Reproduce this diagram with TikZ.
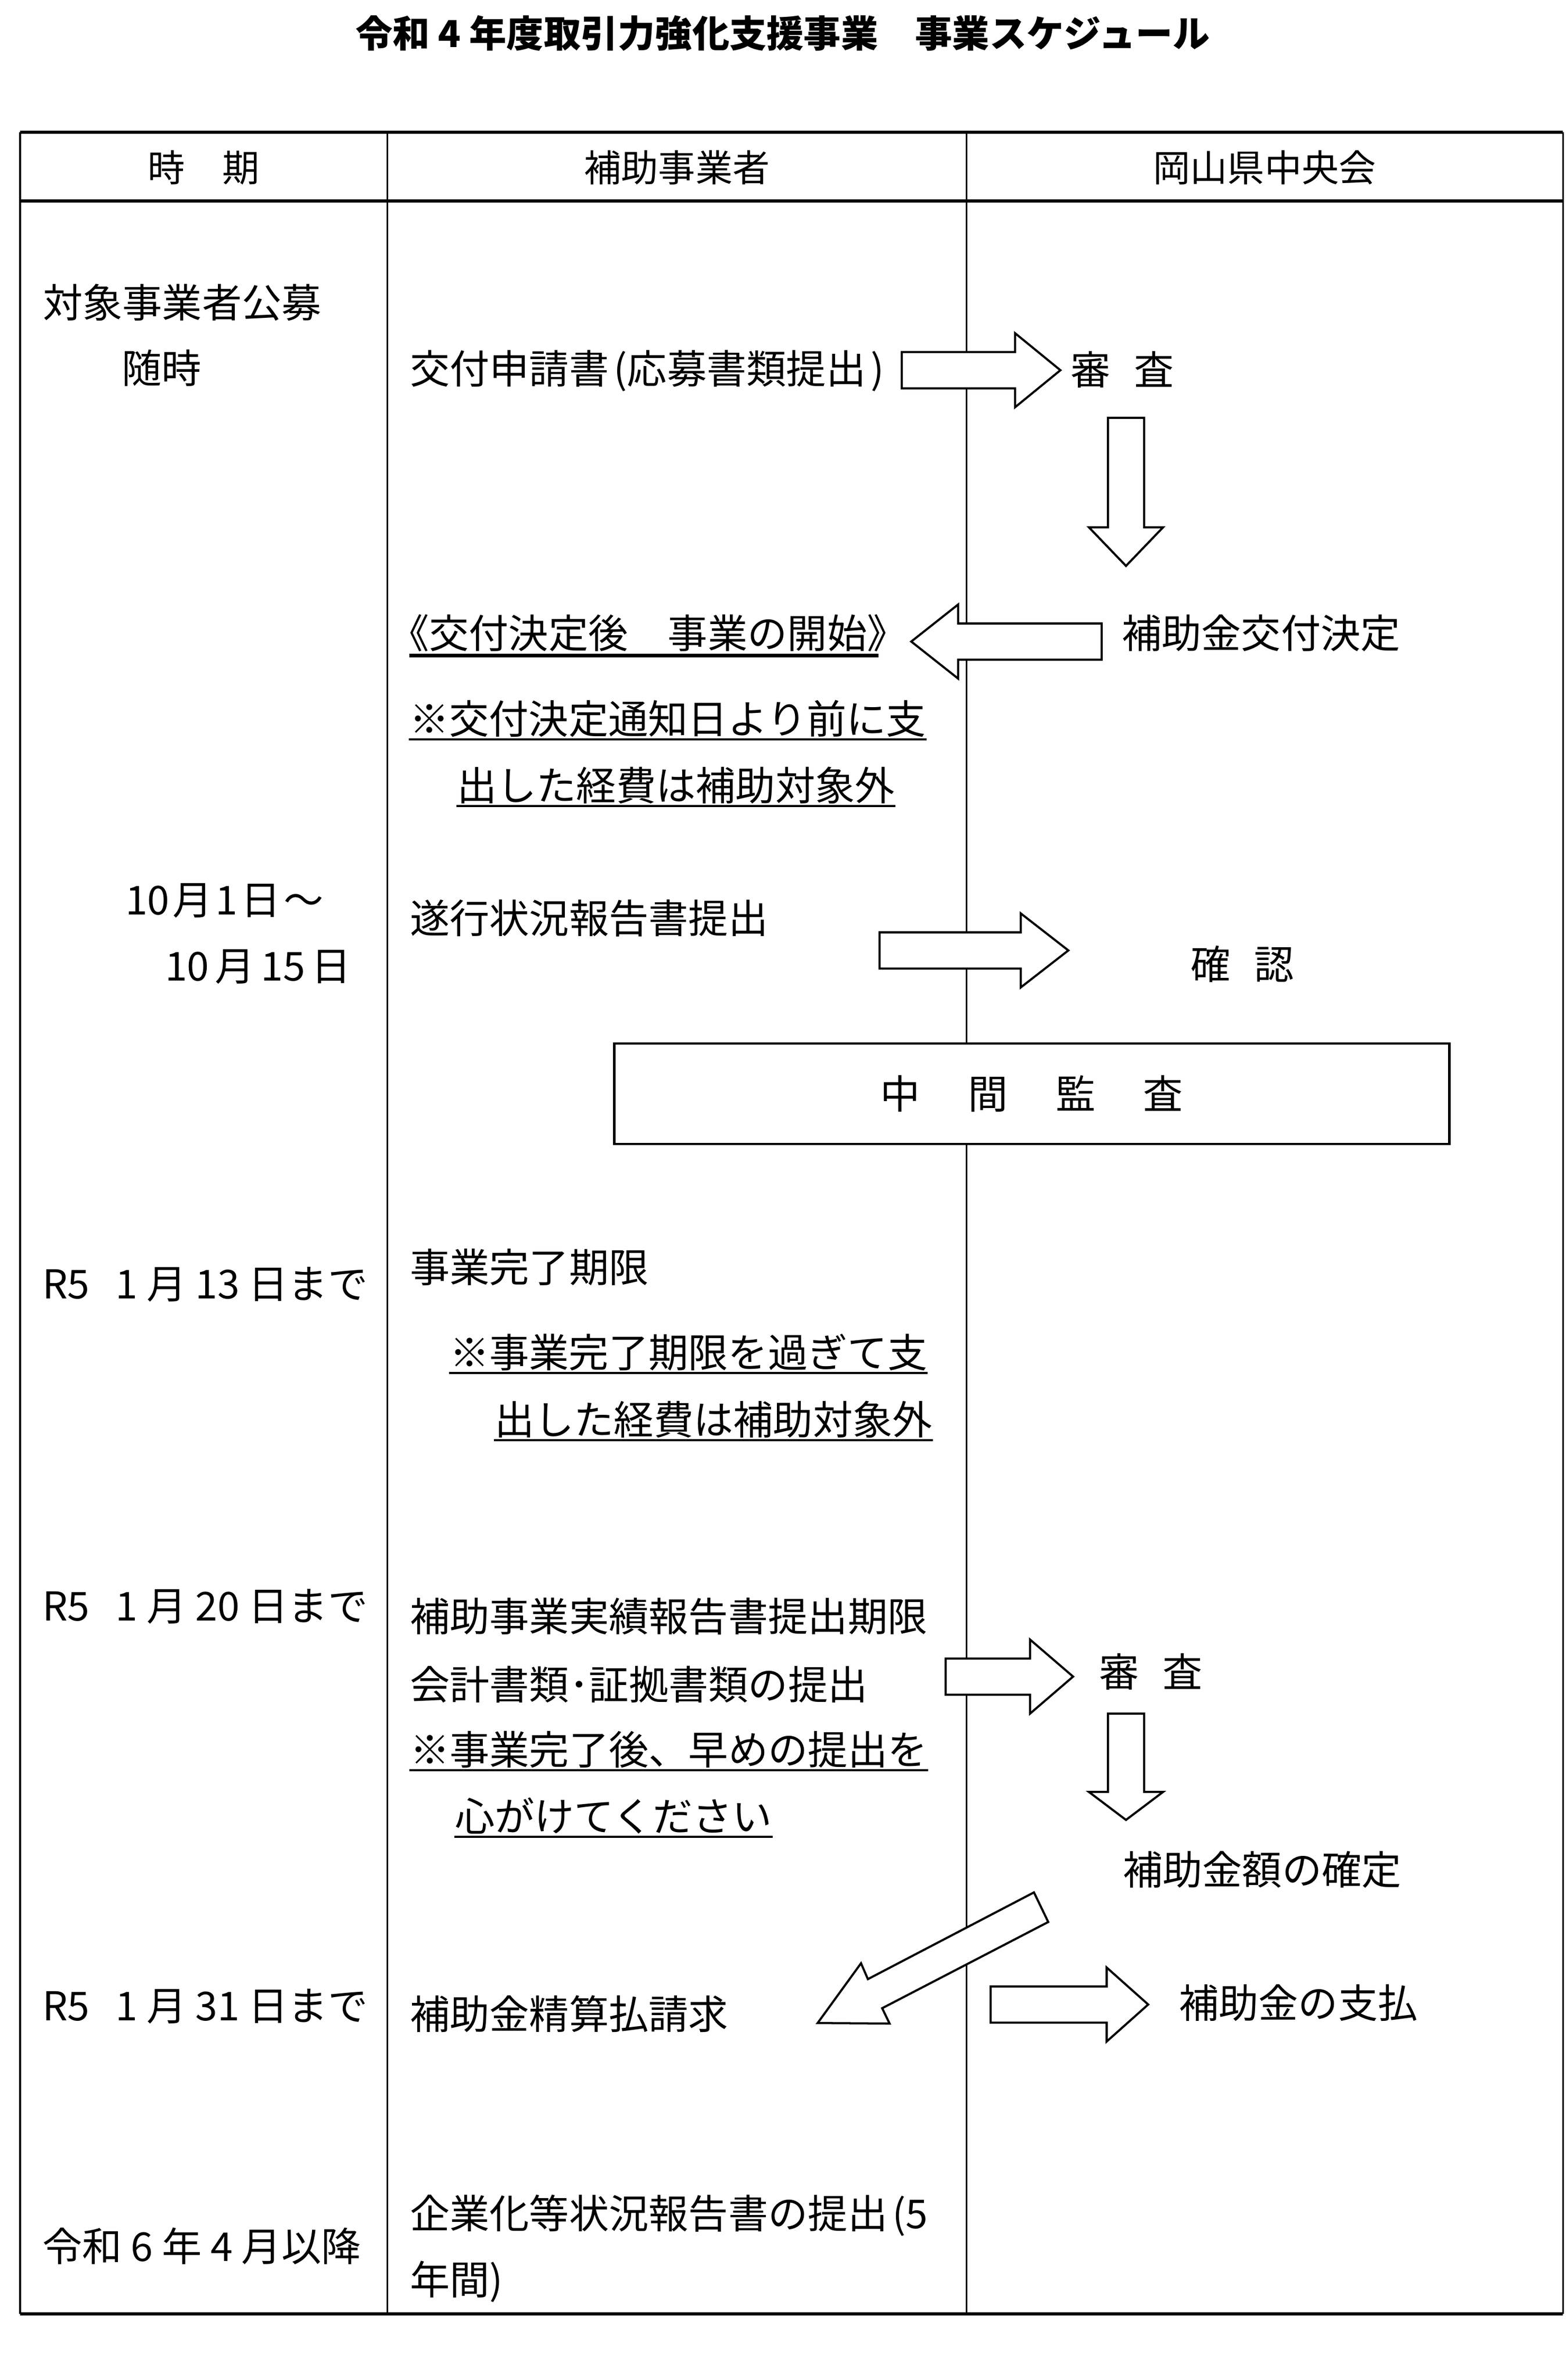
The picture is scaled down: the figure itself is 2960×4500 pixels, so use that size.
\documentclass[tikz,border=0pt]{standalone}
\usepackage{fontspec}
\setmainfont{Noto Sans CJK JP}
\usetikzlibrary{calc}
\tikzset{%
	body text/.style={
		font=\fontsize{15pt}{18pt}\selectfont,
		inner sep=0pt,
		anchor=base west
	},
	head text/.style={
		font=\fontsize{14pt}{17pt}\selectfont,
		inner sep=0pt,
		anchor=base
	},
	block arrow/.style={draw, fill=white, line width=0.8pt, line join=miter},
	under line/.style={line width=0.9pt},
	table rule/.style={line width=1.3pt},
	table sep/.style={line width=0.6pt},
}
% block arrow from #1 (tail) to #2 (tip), head length #3
\newcommand{\blockarrow}[3]{%
	\coordinate (#1-b) at ($(#2)!#3!(#1)$);
	\draw[block arrow]
		($(#1)!0.24cm!90:(#2)$) -- ($(#1-b)!0.24cm!90:(#2)$)
		-- ($(#1-b)!0.49cm!90:(#2)$) -- (#2)
		-- ($(#1-b)!0.49cm!-90:(#2)$) -- ($(#1-b)!0.24cm!-90:(#2)$)
		-- ($(#1)!0.24cm!-90:(#2)$) -- cycle;
}
\begin{document}
\begin{tikzpicture}[x=0.007cm, y=-0.007cm]
			\useasboundingbox (0,0) rectangle (2960,4500);
			% Draw the title
			\node[head text, font=\fontsize{14pt}{17pt}\selectfont\bfseries] (title) at (1480,89) {令和 4 年度取引力強化支援事業　事業スケジュール};
			
			% Draw the table
			\draw[table sep] (38,250) -- (38,4375);
			\draw[table sep] (732,250) -- (732,4375);
			\draw[table sep] (1827,250) -- (1827,4375);
			\draw[table sep] (2955,250) -- (2955,4375);
			\draw[table rule] (38,250) -- (2955,250);
			\draw[table rule] (38,380) -- (2955,380);
			\draw[table rule] (38,4375) -- (2955,4375);
			\node[head text] (h-time) at (385,343) {時　期};
			\node[head text] (h-firm) at (1280,343) {補助事業者};
			\node[head text] (h-kai) at (2391,343) {岡山県中央会};
			
			% Draw the arrows
			\coordinate (ar1a) at (1705,700);
			\coordinate (ar1b) at (2005,700);
			\blockarrow{ar1a}{ar1b}{0.6cm}
			\coordinate (ar2a) at (2129,790);
			\coordinate (ar2b) at (2129,1070);
			\blockarrow{ar2a}{ar2b}{0.51cm}
			\coordinate (ar3a) at (2083,1213);
			\coordinate (ar3b) at (1723,1213);
			\blockarrow{ar3a}{ar3b}{0.62cm}
			\coordinate (ar4a) at (1663,1797);
			\coordinate (ar4b) at (2020,1797);
			\blockarrow{ar4a}{ar4b}{0.63cm}
			\coordinate (ar5a) at (1788,3170);
			\coordinate (ar5b) at (2029,3170);
			\blockarrow{ar5a}{ar5b}{0.57cm}
			\coordinate (ar6a) at (2129,3240);
			\coordinate (ar6b) at (2129,3441);
			\blockarrow{ar6a}{ar6b}{0.37cm}
			\coordinate (ar8a) at (1873,3790);
			\coordinate (ar8b) at (2171,3790);
			\blockarrow{ar8a}{ar8b}{0.55cm}
			% the slanted one
			\draw[block arrow] (1955,3578) -- (1982,3634) -- (1668,3797) -- (1682,3826)
				-- (1546,3825) -- (1628,3712) -- (1641,3742) -- cycle;
			
			% Draw the audit box
			\node[draw, fill=white, line width=0.9pt, minimum width=11.06cm, minimum height=1.33cm,
				font=\fontsize{15pt}{18pt}\selectfont] (audit) at (1951,2068)
				{中\hspace{1.2em}間\hspace{1.2em}監\hspace{1.2em}査};
			
			% First column
			\node[body text] (t-koubo) at (80,600) {対象事業者公募};
			\node[body text] (t-zuiji) at (229,724) {随時};
			\node[body text] (t-oct1) at (236,1729) {10\hspace{0.08em}月\hspace{0.08em}1\hspace{0.08em}日\hspace{0.08em}～};
			\node[body text] (t-oct15) at (311,1854) {10\hspace{0.15em}月\hspace{0.15em}15\hspace{0.15em}日};
			\node[body text] (t-jan13) at (79,2455) {R5\hspace{0.65em}1 月 13 日まで};
			\node[body text] (t-jan20) at (79,3064) {R5\hspace{0.65em}1 月 20 日まで};
			\node[body text] (t-jan31) at (79,3820) {R5\hspace{0.65em}1 月 31 日まで};
			\node[body text] (t-r6) at (79,4275) {令和 6 年 4 月以降};
			
			% Second column
			\node[body text] (s-apply) at (774,725) {交付申請書\hspace{0.12em}(応募書類提出\hspace{0.12em})};
			\node[body text] (s-start) at (735,1225) {《交付決定後　事業の開始》};
			\draw[under line, line width=1.4pt] ([xshift=0.27cm, yshift=-2.8pt]s-start.base west) -- ([xshift=-0.38cm, yshift=-2.8pt]s-start.base east);
			\node[body text] (s-note1a) at (773,1387) {※交付決定通知日より前に支};
			\draw[under line, line width=0.7pt] ([yshift=-2.2pt]s-note1a.base west) -- ([yshift=-2.2pt]s-note1a.base east);
			\node[body text] (s-note1b) at (863,1513) {出した経費は補助対象外};
			\draw[under line, line width=0.7pt] ([yshift=-2.2pt]s-note1b.base west) -- ([yshift=-2.2pt]s-note1b.base east);
			\node[body text] (s-progress) at (774,1764) {遂行状況報告書提出};
			\node[body text] (s-limit) at (774,2424) {事業完了期限};
			\node[body text] (s-note2a) at (849,2585) {※事業完了期限を過ぎて支};
			\draw[under line] ([yshift=-2.2pt]s-note2a.base west) -- ([yshift=-2.2pt]s-note2a.base east);
			\node[body text] (s-note2b) at (934,2712) {出した経費は補助対象外};
			\draw[under line] ([yshift=-2.2pt]s-note2b.base west) -- ([yshift=-2.2pt]s-note2b.base east);
			\node[body text] (s-report) at (774,3084) {補助事業実績報告書提出期限};
			\node[body text] (s-docs) at (774,3213) {会計書類･証拠書類の提出};
			\node[body text] (s-note3a) at (774,3336) {※事業完了後、早めの提出を};
			\draw[under line] ([yshift=-2.2pt]s-note3a.base west) -- ([yshift=-2.2pt]s-note3a.base east);
			\node[body text] (s-note3b) at (859,3462) {心がけてください};
			\draw[under line] ([yshift=-2.2pt]s-note3b.base west) -- ([yshift=-2.2pt]s-note3b.base east);
			\node[body text] (s-claim) at (774,3836) {補助金精算払請求};
			\node[body text] (s-biz1) at (774,4213) {企業化等状況報告書の提出\hspace{0.12em}(5};
			\node[body text] (s-biz2) at (774,4338) {年間)};
			
			% Third column
			\node[body text] (k-check1) at (2023,727) {審\hspace{0.6em}査};
			\node[body text] (k-decide) at (2120,1225) {補助金交付決定};
			\node[body text] (k-confirm) at (2250,1851) {確\hspace{0.6em}認};
			\node[body text] (k-check2) at (2077,3189) {審\hspace{0.6em}査};
			\node[body text] (k-amount) at (2122,3563) {補助金額の確定};
			\node[body text] (k-pay) at (2228,3815) {補助金の支払};
			
		\end{tikzpicture}
\end{document}
